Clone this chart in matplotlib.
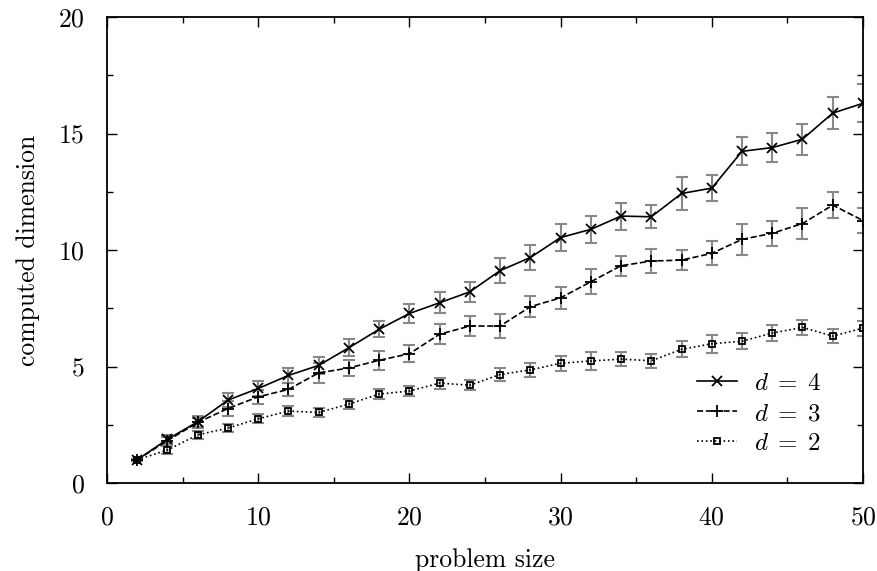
import numpy as np
import matplotlib
matplotlib.use('Agg')
import matplotlib.pyplot as plt

plt.rcParams['font.family'] = ['cmr10', 'DejaVu Serif']
plt.rcParams['mathtext.fontset'] = 'cm'
plt.rcParams['axes.formatter.use_mathtext'] = True

size = [2, 4, 6, 8, 10, 12, 14, 16, 18, 20, 22, 24, 26, 28, 30, 32, 34, 36, 38, 40, 42, 44, 46, 48, 50]

d4 = [1.0, 1.88, 2.63, 3.56, 4.06, 4.62, 5.05, 5.81, 6.6, 7.28, 7.74, 8.21, 9.12, 9.68, 10.54, 10.89,
      11.46, 11.43, 12.43, 12.66, 14.24, 14.4, 14.76, 15.88, 16.3]
d4_err = [0.05, 0.18, 0.25, 0.29, 0.31, 0.32, 0.37, 0.36, 0.34, 0.39, 0.45, 0.43, 0.54, 0.54, 0.56, 0.57,
          0.58, 0.5, 0.69, 0.57, 0.6, 0.62, 0.67, 0.68, 0.82]

d3 = [1.0, 1.82, 2.6, 3.2, 3.7, 4.02, 4.73, 4.94, 5.27, 5.55, 6.39, 6.74, 6.74, 7.57, 7.95, 8.64,
      9.33, 9.53, 9.57, 9.86, 10.46, 10.72, 11.14, 11.93, 11.27]
d3_err = [0.05, 0.15, 0.2, 0.32, 0.31, 0.29, 0.43, 0.35, 0.41, 0.36, 0.44, 0.44, 0.5, 0.46, 0.46, 0.53,
          0.43, 0.52, 0.44, 0.52, 0.67, 0.54, 0.67, 0.57, 0.54]

d2 = [1.0, 1.42, 2.07, 2.36, 2.76, 3.09, 3.03, 3.39, 3.82, 3.95, 4.29, 4.2, 4.66, 4.86, 5.14, 5.24,
      5.32, 5.25, 5.74, 5.98, 6.09, 6.44, 6.68, 6.31, 6.65]
d2_err = [0.05, 0.17, 0.17, 0.17, 0.2, 0.23, 0.21, 0.21, 0.22, 0.22, 0.24, 0.22, 0.26, 0.29, 0.32, 0.38,
          0.31, 0.3, 0.34, 0.39, 0.34, 0.34, 0.32, 0.31, 0.32]

fig = plt.figure(figsize=(8.77, 5.71), dpi=100)
ax = fig.add_axes([0.122, 0.154, 0.862, 0.816])

series = [(d4, d4_err, 'x', '-', 7, r'$d\;=\;4$'),
          (d3, d3_err, '+', '--', 9, r'$d\;=\;3$'),
          (d2, d2_err, 's', ':', 5, r'$d\;=\;2$')]
for vals, err, mk, ls, ms, lab in series:
    ax.errorbar(size, vals, yerr=err, fmt='none', ecolor='#888888', elinewidth=1.5,
                capsize=4, capthick=1.5, zorder=2)
    ax.plot(size, vals, color='black', linestyle=ls, linewidth=1.2, marker=mk,
            markersize=ms, markeredgewidth=1.3, markerfacecolor='none',
            markeredgecolor='black', label=lab, zorder=3)

ax.set_xlim(0, 50)
ax.set_ylim(0, 20)
ax.set_xticks([0, 10, 20, 30, 40, 50])
ax.set_xticks(np.arange(5, 50, 10), minor=True)
ax.set_yticks([0, 5, 10, 15, 20])
ax.set_yticks(np.arange(2.5, 20, 5), minor=True)
ax.tick_params(which='both', direction='in', top=True, right=True, labelsize=18.5, pad=16)
ax.tick_params(which='major', length=7, width=1)
ax.tick_params(which='minor', length=4.5, width=1)
for s in ax.spines.values():
    s.set_linewidth(1.3)

ax.set_xlabel('problem size', fontsize=18.5, labelpad=14)
ax.set_ylabel('computed dimension', fontsize=18.5, labelpad=13)

leg = ax.legend(loc='lower right', frameon=False, fontsize=18, handlelength=1.6,
                borderpad=0, borderaxespad=0, labelspacing=0.3, handletextpad=0.7,
                bbox_to_anchor=(0.945, 0.06))

fig.savefig('out.png', dpi=100)
